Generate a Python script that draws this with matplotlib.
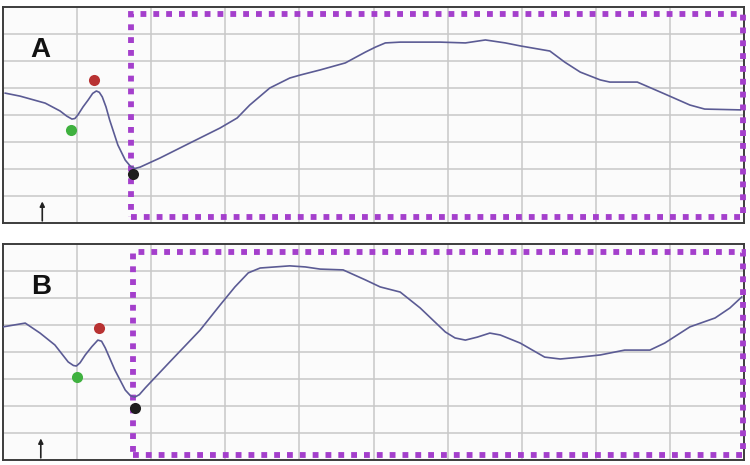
import matplotlib.pyplot as plt
from matplotlib.patches import Rectangle

# trace A (x in grid units 0-10, y in grid units 0-8)
a_x = [0.03, 0.23, 0.57, 0.77, 0.86, 0.93, 0.97, 1.01, 1.08, 1.15, 1.21, 1.26, 1.30, 1.34,
       1.39, 1.44, 1.55, 1.65, 1.72, 1.78, 1.85, 2.12, 2.52, 2.93, 3.16, 3.33, 3.60, 3.87,
       4.01, 4.28, 4.62, 4.89, 5.03, 5.16, 5.36, 5.90, 6.24, 6.51, 6.78, 6.98, 7.38, 7.58,
       7.79, 8.06, 8.19, 8.56, 8.93, 9.27, 9.47, 9.95]
a_y = [4.81, 4.70, 4.44, 4.15, 3.96, 3.85, 3.87, 4.00, 4.30, 4.56, 4.80, 4.89, 4.84, 4.67,
       4.30, 3.81, 2.89, 2.33, 2.10, 2.02, 2.07, 2.41, 2.96, 3.52, 3.89, 4.37, 5.00, 5.37,
       5.48, 5.67, 5.93, 6.33, 6.52, 6.67, 6.70, 6.70, 6.67, 6.78, 6.67, 6.56, 6.37, 5.96,
       5.59, 5.30, 5.22, 5.22, 4.78, 4.37, 4.22, 4.19]

# trace B
b_x = [0.00, 0.30, 0.50, 0.70, 0.88, 0.95, 0.99, 1.04, 1.11, 1.20, 1.28, 1.33, 1.38, 1.51,
       1.65, 1.72, 1.78, 1.84, 1.92, 2.25, 2.66, 2.93, 3.13, 3.31, 3.47, 3.87, 4.08, 4.28,
       4.59, 4.89, 5.09, 5.36, 5.63, 5.97, 6.10, 6.24, 6.40, 6.57, 6.71, 6.98, 7.31, 7.52,
       7.79, 8.06, 8.39, 8.73, 8.93, 9.27, 9.61, 9.81, 9.97]
b_y = [4.93, 5.07, 4.70, 4.26, 3.63, 3.50, 3.48, 3.60, 3.89, 4.20, 4.44, 4.40, 4.15, 3.33,
       2.59, 2.38, 2.33, 2.42, 2.67, 3.63, 4.81, 5.74, 6.41, 6.93, 7.11, 7.19, 7.15, 7.07,
       7.04, 6.67, 6.41, 6.22, 5.63, 4.74, 4.52, 4.44, 4.55, 4.70, 4.63, 4.33, 3.81, 3.74,
       3.81, 3.89, 4.07, 4.07, 4.33, 4.93, 5.26, 5.63, 6.04]

# marked points: green, red, black
a_marks = [(0.92, 3.44), (1.23, 5.30), (1.75, 1.81)]
b_marks = [(1.00, 3.07), (1.30, 4.89), (1.78, 1.93)]
mark_colors = ['#3fb13f', '#b83232', '#1e1e1e']

# stimulus arrow x and the boxed window
a_arrow = 0.53
b_arrow = 0.51
a_box = (1.73, 0.22, 8.26, 7.52)
b_box = (1.75, 0.19, 8.24, 7.52)

line_col = '#5b5b94'
box_col = '#a43fcc'

fig = plt.figure(figsize=(7.5, 4.65), dpi=100)
ax_a = fig.add_axes([0.004, 0.5204, 0.988, 0.4645])
ax_b = fig.add_axes([0.004, 0.0108, 0.988, 0.4645])

panels = [(ax_a, a_x, a_y, a_marks, a_arrow, a_box, 'A'),
          (ax_b, b_x, b_y, b_marks, b_arrow, b_box, 'B')]

for ax, xs, ys, marks, arr, box, lab in panels:
    ax.set_xlim(0, 10)
    ax.set_ylim(0, 8)
    ax.set_facecolor('#fbfbfb')
    ax.set_xticks(range(1, 10))
    ax.set_yticks(range(1, 8))
    ax.grid(True, color='#c8c8c8', lw=1.1)
    ax.tick_params(length=0, labelbottom=False, labelleft=False)
    for s in ax.spines.values():
        s.set_color('#3c3c3c')
        s.set_linewidth(1.4)
    ax.add_patch(Rectangle((box[0], box[1]), box[2], box[3], fill=False,
                           edgecolor=box_col, lw=4.2, linestyle=(0, (1, 1.2)),
                           capstyle='butt', zorder=3, clip_on=False))
    ax.plot(xs, ys, color=line_col, lw=1.2, zorder=4)
    for (mx, my), c in zip(marks, mark_colors):
        ax.plot(mx, my, 'o', color=c, ms=8, mec='none', zorder=5)
    ax.annotate('', xy=(arr, 0.8), xytext=(arr, 0.08),
                arrowprops=dict(arrowstyle='-|>', color='#222222', lw=1.2,
                                mutation_scale=7, shrinkA=0, shrinkB=0))
    ax.text(0.51, 6.42, lab, fontsize=20, fontweight='bold', family='Liberation Sans',
            ha='center', va='center', color='#111111', zorder=6)

fig.savefig('out.png', dpi=100, facecolor='white')
